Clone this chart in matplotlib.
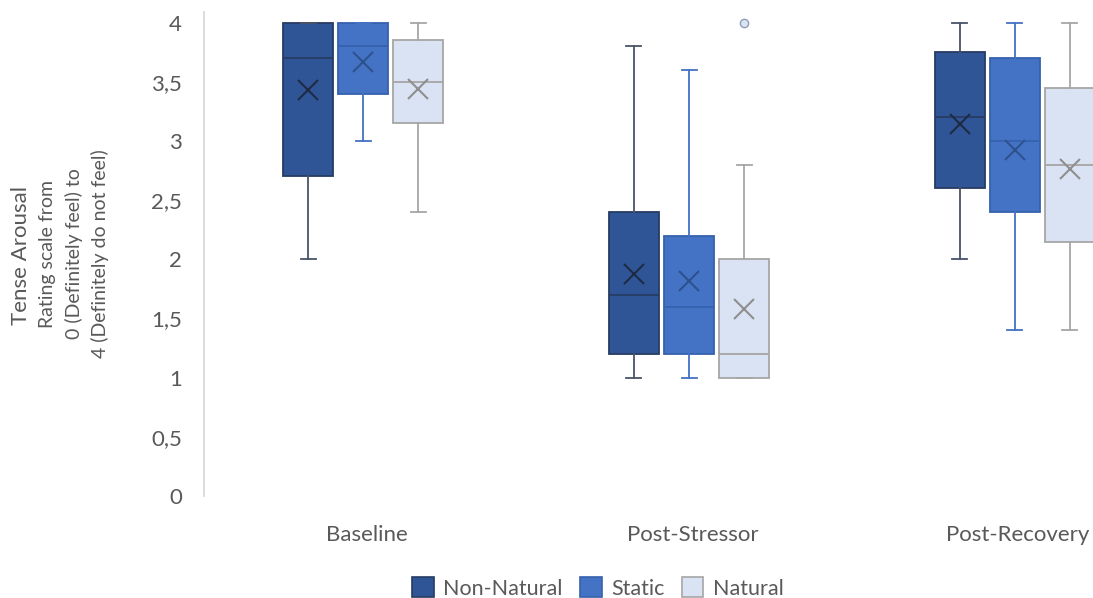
import matplotlib.pyplot as plt
from matplotlib.patches import Patch

plt.rcParams['font.family'] = ['Lato', 'DejaVu Sans']

# Five-number summaries read per phase (Baseline, Post-Stressor, Post-Recovery)
phases = ['Baseline', 'Post-Stressor', 'Post-Recovery']
groups = ['Non-Natural', 'Static', 'Natural']

q1 = {
    'Non-Natural': [2.7, 1.2, 2.6],
    'Static': [3.4, 1.2, 2.4],
    'Natural': [3.15, 1.0, 2.15],
}
median = {
    'Non-Natural': [3.7, 1.7, 3.2],
    'Static': [3.8, 1.6, 3.0],
    'Natural': [3.5, 1.2, 2.8],
}
q3 = {
    'Non-Natural': [4.0, 2.4, 3.75],
    'Static': [4.0, 2.2, 3.7],
    'Natural': [3.85, 2.0, 3.45],
}
whisker_low = {
    'Non-Natural': [2.0, 1.0, 2.0],
    'Static': [3.0, 1.0, 1.4],
    'Natural': [2.4, 1.0, 1.4],
}
whisker_high = {
    'Non-Natural': [4.0, 3.8, 4.0],
    'Static': [4.0, 3.6, 4.0],
    'Natural': [4.0, 2.8, 4.0],
}
mean = {
    'Non-Natural': [3.43, 1.88, 3.14],
    'Static': [3.67, 1.82, 2.92],
    'Natural': [3.44, 1.58, 2.76],
}
outliers = {
    'Non-Natural': [[], [], []],
    'Static': [[], [], []],
    'Natural': [[], [4.0], []],
}

ytick_values = [0, 0.5, 1, 1.5, 2, 2.5, 3, 3.5, 4]
ytick_labels = ['0', '0,5', '1', '1,5', '2', '2,5', '3', '3,5', '4']

styles = {
    'Non-Natural': dict(fill='#2F5597', edge='#263C63', whisker='#4A5468', mean='#1E2B45'),
    'Static': dict(fill='#4472C4', edge='#3561AE', whisker='#4472C4', mean='#2E528F'),
    'Natural': dict(fill='#DAE3F3', edge='#A6A6A6', whisker='#A6A6A6', mean='#8F8F8F'),
}
offsets = {'Non-Natural': -0.169, 'Static': 0.0, 'Natural': 0.169}
box_width = 0.154
text_color = '#595959'

fig = plt.figure(figsize=(10.93, 5.98), dpi=100)
ax = fig.add_axes([204 / 1093, 102 / 598, 889 / 1093, 484 / 598])

for g in groups:
    st = styles[g]
    stats = []
    for i in range(len(phases)):
        stats.append(dict(q1=q1[g][i], med=median[g][i], q3=q3[g][i],
                          whislo=whisker_low[g][i], whishi=whisker_high[g][i],
                          mean=mean[g][i], fliers=outliers[g][i]))
    pos = [i + offsets[g] for i in range(len(phases))]
    ax.bxp(stats, positions=pos, widths=box_width, capwidths=0.046,
           patch_artist=True, showmeans=True, manage_ticks=False,
           boxprops=dict(facecolor=st['fill'], edgecolor=st['edge'], linewidth=1.3),
           medianprops=dict(color=st['edge'], linewidth=1.3),
           whiskerprops=dict(color=st['whisker'], linewidth=1.3),
           capprops=dict(color=st['whisker'], linewidth=1.3),
           meanprops=dict(marker='x', markersize=14, markeredgewidth=1.5,
                          markeredgecolor=st['mean']),
           flierprops=dict(marker='o', markersize=6, markerfacecolor=st['fill'],
                           markeredgecolor='#8E9DB8', markeredgewidth=1))

ax.set_xlim(-0.4885, 2.2396)
ax.set_ylim(0, 4.09)
ax.set_yticks(ytick_values)
ax.set_yticklabels(ytick_labels)
ax.set_xticks([i + 0.01 for i in range(len(phases))])
ax.set_xticklabels(phases)
ax.tick_params(axis='both', length=0, labelsize=16, colors=text_color)
ax.tick_params(axis='y', pad=16)
ax.tick_params(axis='x', pad=21)

for side in ['top', 'right', 'bottom']:
    ax.spines[side].set_visible(False)
ax.spines['left'].set_color('#D9D9D9')
ax.spines['left'].set_linewidth(1.3)

# Axis title: main line plus the rating scale description
fig.text(21 / 1093, 1 - 255 / 598, 'Tense Arousal', rotation=90, ha='center',
         va='center', fontsize=16, color=text_color)
scale_lines = ['Rating scale from', '0 (Definitely feel) to', '4 (Definitely do not feel)']
for x_px, line in zip([48, 74, 100], scale_lines):
    fig.text(x_px / 1093, 1 - 254 / 598, line, rotation=90, ha='center',
             va='center', fontsize=14, color=text_color)

handles = [Patch(facecolor=styles[g]['fill'], edgecolor=styles[g]['edge'], linewidth=1.2)
           for g in groups]
fig.legend(handles, groups, loc='center', bbox_to_anchor=(598 / 1093, 1 - 588 / 598),
           ncol=3, frameon=False, fontsize=15.5, labelcolor=text_color,
           handlelength=1.0, handleheight=1.0, handletextpad=0.45, columnspacing=0.8)

fig.savefig('out.png', dpi=100)
